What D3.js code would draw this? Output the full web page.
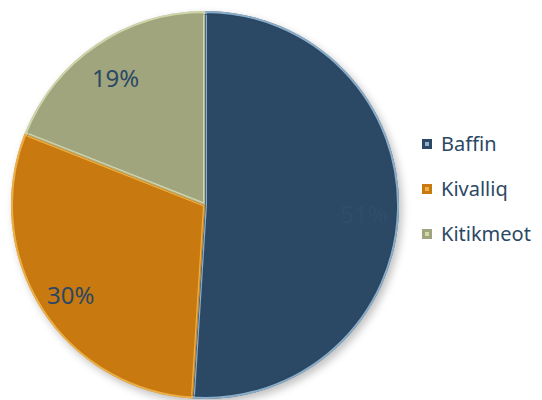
<!DOCTYPE html>
<html>
<head>
<meta charset="utf-8">
<script src="https://cdn.jsdelivr.net/npm/d3@7"></script>
<style>
  html, body { margin: 0; padding: 0; background: #fff; }
  svg { display: block; }
</style>
</head>
<body>
<svg id="chart" width="542" height="400"></svg>
<script>
// Regional share
const regions = ["Baffin", "Kivalliq", "Kitikmeot"];
const shares = [51, 30, 19];
const labels = ["51%", "30%", "19%"];
const colors = ["#2b4864", "#c8790f", "#a0a57e"];
const highlights = ["#a9cdea", "#f5c25a", "#e0e6b8"];
const labelColors = ["#2f4e6b", "#2b4864", "#2b4864"];

const svg = d3.select("#chart");
const cx = 205, cy = 205, R = 194;

const defs = svg.append("defs");
const blur = defs.append("filter").attr("id", "shadow")
  .attr("x", "-20%").attr("y", "-20%").attr("width", "140%").attr("height", "140%");
blur.append("feGaussianBlur").attr("stdDeviation", 4);

const pie = d3.pie().sort(null).value(d => d);
const arcs = pie(shares);
const arc = d3.arc().innerRadius(0).outerRadius(R);

const g = svg.append("g").attr("transform", `translate(${cx},${cy})`);

// soft drop shadow under the disc
g.append("circle")
  .attr("cx", 3).attr("cy", 4).attr("r", R)
  .attr("fill", "#000").attr("opacity", 0.25)
  .attr("filter", "url(#shadow)");

// slices
arcs.forEach((a, i) => {
  const d = arc(a);
  defs.append("clipPath").attr("id", "clip" + i).append("path").attr("d", d);
  g.append("path").attr("d", d).attr("fill", colors[i]);
  // bevelled inner edge
  g.append("path").attr("d", d)
    .attr("fill", "none")
    .attr("stroke", highlights[i])
    .attr("stroke-width", 4)
    .attr("opacity", 0.75)
    .attr("clip-path", `url(#clip${i})`);
  g.append("path").attr("d", d)
    .attr("fill", "none")
    .attr("stroke", colors[i])
    .attr("stroke-width", 1.5)
    .attr("opacity", 0.9)
    .attr("clip-path", `url(#clip${i})`)
    .attr("transform", "scale(0.985)");
});

// percentage labels
const labelArc = d3.arc().innerRadius(R * 0.82).outerRadius(R * 0.82);
g.selectAll("text.pct")
  .data(arcs)
  .join("text")
  .attr("class", "pct")
  .attr("transform", d => {
    const [x, y] = labelArc.centroid(d);
    return `translate(${x},${y + 5})`;
  })
  .attr("text-anchor", "middle")
  .attr("dy", "0.35em")
  .attr("font-family", "'Noto Sans', sans-serif")
  .attr("font-size", 24)
  .attr("fill", (d, i) => labelColors[i])
  .text((d, i) => labels[i]);

// legend
const legend = svg.append("g").attr("transform", "translate(422,144)");
const row = legend.selectAll("g").data(regions).join("g")
  .attr("transform", (d, i) => `translate(0,${i * 45})`);
row.append("rect")
  .attr("x", 0).attr("y", -5).attr("width", 10).attr("height", 10)
  .attr("fill", (d, i) => colors[i]);
row.append("rect")
  .attr("x", 3).attr("y", -2).attr("width", 4).attr("height", 4)
  .attr("fill", (d, i) => highlights[i]).attr("opacity", 0.8);
row.append("text")
  .attr("x", 19).attr("y", 0).attr("dy", "0.36em")
  .attr("font-family", "'Noto Sans', sans-serif")
  .attr("font-size", 20)
  .attr("fill", "#2b4864")
  .text(d => d);
</script>
</body>
</html>
